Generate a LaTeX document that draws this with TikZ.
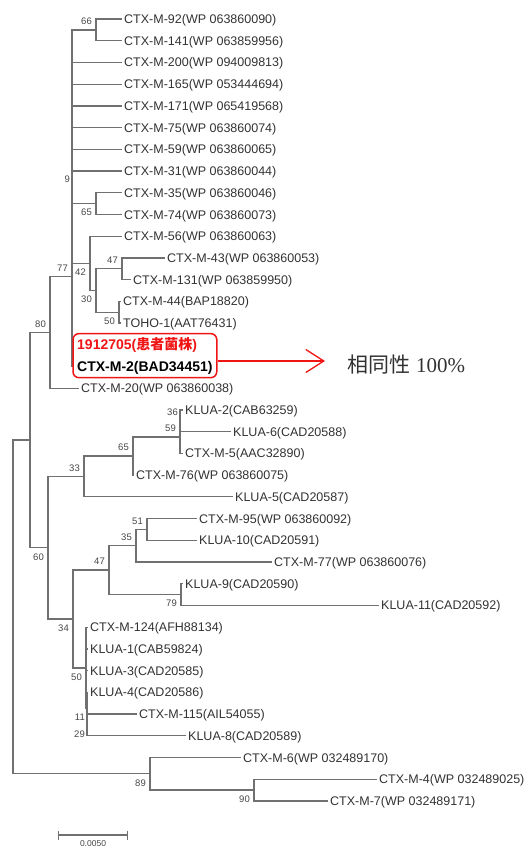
\documentclass[tikz,border=0pt]{standalone}
\usepackage{fontspec}
\setmainfont{Liberation Sans}
\newfontfamily\jpfont{Noto Sans CJK JP}
\newfontfamily\numfont{Liberation Serif}
\usepackage{tikz}
\usetikzlibrary{arrows.meta, positioning, calc, fit}
\definecolor{brgray}{RGB}{112,112,112}
\definecolor{txtgray}{RGB}{50,50,50}
\definecolor{bootgray}{RGB}{70,70,70}
\definecolor{hlred}{RGB}{240,20,20}
\tikzset{
  branch/.style={draw=brgray, line width=1.25pt},
  leaf/.style={anchor=west, inner sep=2.5pt, text=txtgray,
    font=\fontsize{12.5}{14}\selectfont, text height=9pt, text depth=0pt},
  hleaf/.style={anchor=west, inner sep=3pt,
    font=\fontsize{14}{16}\selectfont\bfseries, text height=10pt, text depth=0pt},
  boot/.style={inner sep=1pt, text=bootgray,
    font=\fontsize{9.5}{10}\selectfont, text height=7pt, text depth=0pt},
  redarrow/.style={-{Straight Barb[length=18pt, width=23pt]}, draw=hlred, line width=1.3pt}
}

\begin{document}
\begin{tikzpicture}[x=1pt, y=-1pt]
  \useasboundingbox (0,0) rectangle (526,849);
  % inner nodes of the tree
  \coordinate (root) at (13,607);
  \coordinate (nA)   at (30,440.1);
  \coordinate (n80)  at (50,332.5);
  \coordinate (n77)  at (72,276.8);
  \coordinate (n9)   at (72,187.4);
  \coordinate (n66)  at (96,29.9);
  \coordinate (n65a) at (96,203.6);
  \coordinate (n42)  at (90,263.4);
  \coordinate (n30)  at (96,290.5);
  \coordinate (n47a) at (122,268.8);
  \coordinate (n50a) at (119,312.2);
  \coordinate (n60)  at (48,547.8);
  \coordinate (n33)  at (84,476.5);
  \coordinate (n65b) at (133,456.1);
  \coordinate (n59)  at (180,437.1);
  \coordinate (n36)  at (180,420.8);
  \coordinate (n34)  at (73,619);
  \coordinate (n47b) at (109,570.1);
  \coordinate (n35)  at (136,545.7);
  \coordinate (n51)  at (147,529.4);
  \coordinate (n79)  at (181,594.6);
  \coordinate (n50b) at (86,667.9);
  \coordinate (n11)  at (87,708.6);
  \coordinate (n29)  at (87,724.9);
  \coordinate (n89)  at (150,773.8);
  \coordinate (n90)  at (254,790);

  % leaves
  \node[leaf] (l92)   at (121.5,19.0)  {CTX-M-92(WP 063860090)};
  \node[leaf] (l141)  at (121.5,40.7)  {CTX-M-141(WP 063859956)};
  \node[leaf] (l200)  at (121.5,62.4)  {CTX-M-200(WP 094009813)};
  \node[leaf] (l165)  at (121.5,84.2)  {CTX-M-165(WP 053444694)};
  \node[leaf] (l171)  at (121.5,105.9) {CTX-M-171(WP 065419568)};
  \node[leaf] (l75)   at (121.5,127.6) {CTX-M-75(WP 063860074)};
  \node[leaf] (l59)   at (121.5,149.3) {CTX-M-59(WP 063860065)};
  \node[leaf] (l31)   at (121.5,171.0) {CTX-M-31(WP 063860044)};
  \node[leaf] (l35)   at (121.5,192.8) {CTX-M-35(WP 063860046)};
  \node[leaf] (l74)   at (121.5,214.5) {CTX-M-74(WP 063860073)};
  \node[leaf] (l56)   at (121.5,236.2) {CTX-M-56(WP 063860063)};
  \node[leaf] (l43)   at (164.5,257.9) {CTX-M-43(WP 063860053)};
  \node[leaf] (l131)  at (130.5,279.6) {CTX-M-131(WP 063859950)};
  \node[leaf] (l44)   at (120.5,301.4) {CTX-M-44(BAP18820)};
  \node[leaf] (ltoho) at (120.5,323.1) {TOHO-1(AAT76431)};
  \node[hleaf, text=hlred] (lpat) at (74,344.8) {1912705({\jpfont 患者菌株})};
  \node[hleaf] (lctx2) at (74,366.5) {CTX-M-2(BAD34451)};
  \node[leaf] (l20)   at (78.5,388.2)  {CTX-M-20(WP 063860038)};
  \node[leaf] (lk2)   at (182.5,410.0) {KLUA-2(CAB63259)};
  \node[leaf] (lk6)   at (230.5,431.7) {KLUA-6(CAD20588)};
  \node[leaf] (l5)    at (182.5,453.4) {CTX-M-5(AAC32890)};
  \node[leaf] (l76)   at (133.5,475.1) {CTX-M-76(WP 063860075)};
  \node[leaf] (lk5)   at (232.5,496.8) {KLUA-5(CAD20587)};
  \node[leaf] (l95)   at (196.5,518.6) {CTX-M-95(WP 063860092)};
  \node[leaf] (lk10)  at (196.5,540.3) {KLUA-10(CAD20591)};
  \node[leaf] (l77)   at (271.5,562.0) {CTX-M-77(WP 063860076)};
  \node[leaf] (lk9)   at (182.5,583.7) {KLUA-9(CAD20590)};
  \node[leaf] (lk11)  at (378.5,605.4) {KLUA-11(CAD20592)};
  \node[leaf] (l124)  at (87.5,627.2)  {CTX-M-124(AFH88134)};
  \node[leaf] (lk1)   at (87.5,648.9)  {KLUA-1(CAB59824)};
  \node[leaf] (lk3)   at (87.5,670.6)  {KLUA-3(CAD20585)};
  \node[leaf] (lk4)   at (87.5,692.3)  {KLUA-4(CAD20586)};
  \node[leaf] (l115)  at (136.5,714.0) {CTX-M-115(AIL54055)};
  \node[leaf] (lk8)   at (185.5,735.8) {KLUA-8(CAD20589)};
  \node[leaf] (l6)    at (240.5,757.5) {CTX-M-6(WP 032489170)};
  \node[leaf] (l4)    at (376.5,779.2) {CTX-M-4(WP 032489025)};
  \node[leaf] (l7)    at (327.5,800.9) {CTX-M-7(WP 032489171)};

  % branches
  \draw[branch] (root) |- (nA) (root) |- (n89);
  \draw[branch] (nA) |- (n80) (nA) |- (n60);
  \draw[branch] (n80) |- (n77) (n80) |- (l20);
  \draw[branch] (n77) |- (n9) (n77) |- (lctx2);
  \draw[branch] (n9) |- (n66) (n9) |- (l200) (n9) |- (l165) (n9) |- (l171)
    (n9) |- (l75) (n9) |- (l59) (n9) |- (l31) (n9) |- (n65a) (n9) |- (n42)
    (n9) |- (lpat);
  \draw[branch] (n66) |- (l92) (n66) |- (l141);
  \draw[branch] (n65a) |- (l35) (n65a) |- (l74);
  \draw[branch] (n42) |- (l56) (n42) |- (n30);
  \draw[branch] (n30) |- (n47a) (n30) |- (n50a);
  \draw[branch] (n47a) |- (l43) (n47a) |- (l131);
  \draw[branch] (n50a) |- (l44) (n50a) |- (ltoho);
  \draw[branch] (n60) |- (n33) (n60) |- (n34);
  \draw[branch] (n33) |- (n65b) (n33) |- (lk5);
  \draw[branch] (n65b) |- (n59) (n65b) |- (l76);
  \draw[branch] (n59) |- (n36) (n59) |- (l5);
  \draw[branch] (n36) |- (lk2) (n36) |- (lk6);
  \draw[branch] (n34) |- (n47b) (n34) |- (n50b);
  \draw[branch] (n47b) |- (n35) (n47b) |- (n79);
  \draw[branch] (n35) |- (n51) (n35) |- (l77);
  \draw[branch] (n51) |- (l95) (n51) |- (lk10);
  \draw[branch] (n79) |- (lk9) (n79) |- (lk11);
  \draw[branch] (n50b) |- (l124) (n50b) |- (lk1) (n50b) |- (lk3) (n50b) |- (n11);
  \draw[branch] (n11) |- (lk4) (n11) |- (n29);
  \draw[branch] (n29) |- (l115) (n29) |- (lk8);
  \draw[branch] (n89) |- (l6) (n89) |- (n90);
  \draw[branch] (n90) |- (l4) (n90) |- (l7);

  % bootstrap values
  \node[boot, above left=4pt and 3pt of n66]  (b66)  {66};
  \node[boot, below left=4pt and 3pt of n65a] (b65a) {65};
  \node[boot, below left=4pt and 3pt of n42]  (b42)  {42};
  \node[boot, below left=4pt and 3pt of n30]  (b30)  {30};
  \node[boot, above left=4pt and 3pt of n47a] (b47a) {47};
  \node[boot, below left=4pt and 3pt of n50a] (b50a) {50};
  \node[boot, above left=4pt and 1pt of n9]   (b9)   {9};
  \node[boot, above left=4pt and 3pt of n77]  (b77)  {77};
  \node[boot, above left=4pt and 3pt of n80]  (b80)  {80};
  \node[boot, above left=4pt and 1pt of n36]  (b36)  {36};
  \node[boot, above left=4pt and 3pt of n59]  (b59)  {59};
  \node[boot, above left=4pt and 3pt of n65b] (b65b) {65};
  \node[boot, above left=4pt and 3pt of n33]  (b33)  {33};
  \node[boot, below left=4pt and 3pt of n60]  (b60)  {60};
  \node[boot, above left=4pt and 3pt of n51]  (b51)  {51};
  \node[boot, above left=4pt and 3pt of n35]  (b35)  {35};
  \node[boot, above left=4pt and 3pt of n47b] (b47b) {47};
  \node[boot, below left=4pt and 3pt of n79]  (b79)  {79};
  \node[boot, below left=4pt and 3pt of n34]  (b34)  {34};
  \node[boot, below left=4pt and 3pt of n50b] (b50b) {50};
  \node[boot, below left=4pt and 1pt of n11]  (b11)  {11};
  \node[boot, below left=4pt and 1pt of n29]  (b29)  {29};
  \node[boot, below left=4pt and 3pt of n89]  (b89)  {89};
  \node[boot, below left=4pt and 3pt of n90]  (b90)  {90};

  % highlighted strain
  \node[draw=hlred, line width=1.5pt, rounded corners=6pt, inner xsep=1pt,
    inner ysep=3pt, fit=(lpat)(lctx2)] (hl) {};
  \coordinate (tip) at (325,361);
  \node[anchor=west, inner sep=0pt, text=txtgray, font=\fontsize{21}{24}\selectfont]
    (sim) at (347,365) {{\jpfont 相同性} {\numfont 100\%}};
  \draw[redarrow] (hl.east |- tip) -- (tip);

  % scale bar
  \coordinate (sb1) at (58,835);
  \coordinate (sb2) at (128,835);
  \draw[branch, {Bar[width=9pt]}-{Bar[width=9pt]}] (sb1) -- (sb2);
  \node[boot, font=\fontsize{8.5}{9}\selectfont, below=3pt] (sblab)
    at ($(sb1)!0.5!(sb2)$) {0.0050};
\end{tikzpicture}
\end{document}
